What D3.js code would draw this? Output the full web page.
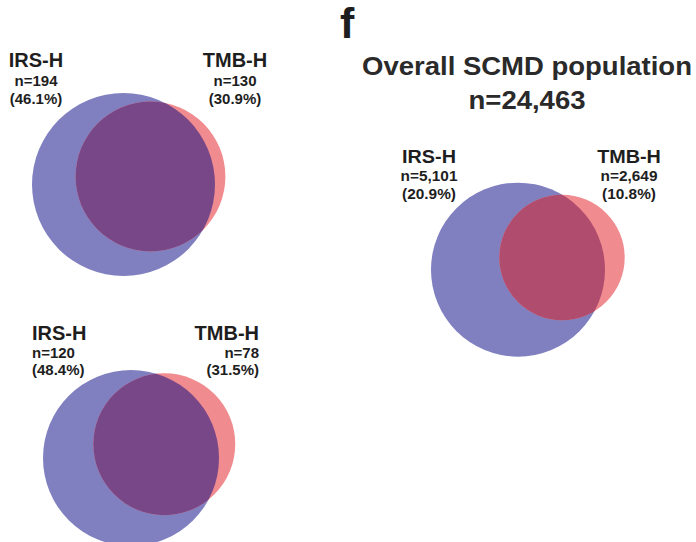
<!DOCTYPE html>
<html>
<head>
<meta charset="utf-8">
<title>IRS-H / TMB-H overlap</title>
<script src="https://cdn.jsdelivr.net/npm/d3@7"></script>
<style>
  body { margin: 0; background: #fff; }
  svg text { font-family: "Liberation Sans", Arial, sans-serif; font-weight: bold; fill: #1e1e1e; }
</style>
</head>
<body>
<script>
// data, one small array per thing
var setNames   = ["IRS-H", "TMB-H"];
var panelIds   = ["top", "bottom", "overall"];
var panelN     = [[194, 130], [120, 78], [5101, 2649]];
var panelPct   = [[46.1, 30.9], [48.4, 31.5], [20.9, 10.8]];
var overallN   = 24463;
var panelLetter = "f";
var titleText  = "Overall SCMD population";

var colBlue = "#8080c0", colPink = "#f08b8f";
var overlapCol = ["#784788", "#784788", "#b04c6e"];

var width = 696, height = 542;
var svg = d3.select("body").append("svg")
  .attr("width", width).attr("height", height);

var fmt = d3.format(",");

// layout of each panel (centre of the big circle, offset of the small one, max radius)
var layout = [
  {cx: 123.5, cy: 184.5, dx: 27,   dy: -8,    rMax: 91.5, nameSize: 20, subSize: 15, sx: 1,
   lab: [{x: 36, anchor: "middle"}, {x: 235, anchor: "middle"}], y0: 67, dy1: 19, dy2: 37},
  {cx: 131,   cy: 458,   dx: 33.3, dy: -13.8, rMax: 88,   nameSize: 20, subSize: 15, sx: 1,
   lab: [{x: 32, anchor: "start"}, {x: 259, anchor: "end"}], y0: 340, dy1: 18, dy2: 35},
  {cx: 518,   cy: 269.7, dx: 44,   dy: -12.2, rMax: 87,   nameSize: 18, subSize: 14, sx: 1.1,
   lab: [{x: 429, anchor: "middle"}, {x: 629, anchor: "middle"}], y0: 163, dy1: 18.5, dy2: 36.5}
];

var defs = svg.append("defs");

panelIds.forEach(function(id, p) {
  var L = layout[p];
  var r = d3.scaleSqrt().domain([0, d3.max(panelN[p])]).range([0, L.rMax]);
  var circles = panelN[p].map(function(n, i) {
    return {n: n, r: r(n), x: L.cx + (i ? L.dx : 0), y: L.cy + (i ? L.dy : 0)};
  });
  var g = svg.append("g").attr("class", "panel-" + id);

  g.selectAll("circle.set")
    .data(circles)
    .enter().append("circle")
    .attr("class", "set")
    .attr("cx", function(d) { return d.x; })
    .attr("cy", function(d) { return d.y; })
    .attr("r", function(d) { return d.r; })
    .attr("fill", function(d, i) { return i ? colPink : colBlue; });

  // overlap = small circle clipped by big circle
  defs.append("clipPath").attr("id", "clip-" + id)
    .append("circle")
    .attr("cx", circles[0].x).attr("cy", circles[0].y).attr("r", circles[0].r);
  g.append("circle")
    .attr("cx", circles[1].x).attr("cy", circles[1].y).attr("r", circles[1].r)
    .attr("clip-path", "url(#clip-" + id + ")")
    .attr("fill", overlapCol[p]);

  // labels
  setNames.forEach(function(name, i) {
    var lab = L.lab[i];
    var t = g.append("g")
      .attr("transform", "translate(" + lab.x + "," + L.y0 + ") scale(" + L.sx + ",1)");
    t.append("text").attr("text-anchor", lab.anchor)
      .style("font-size", L.nameSize + "px").text(name);
    t.append("text").attr("text-anchor", lab.anchor).attr("y", L.dy1)
      .style("font-size", L.subSize + "px").text("n=" + fmt(panelN[p][i]));
    t.append("text").attr("text-anchor", lab.anchor).attr("y", L.dy2)
      .style("font-size", L.subSize + "px").text("(" + panelPct[p][i].toFixed(1) + "%)");
  });
});

// panel letter and title
svg.append("text").attr("x", 340).attr("y", 38)
  .style("font-size", "43px").text(panelLetter);

var title = svg.append("g").attr("transform", "translate(527,0) scale(1.1,1)");
title.append("text").attr("text-anchor", "middle").attr("y", 75)
  .style("font-size", "25px").style("fill", "#2a2a2a").text(titleText);
title.append("text").attr("text-anchor", "middle").attr("y", 109)
  .style("font-size", "25px").style("fill", "#2a2a2a").text("n=" + fmt(overallN));
</script>
</body>
</html>
